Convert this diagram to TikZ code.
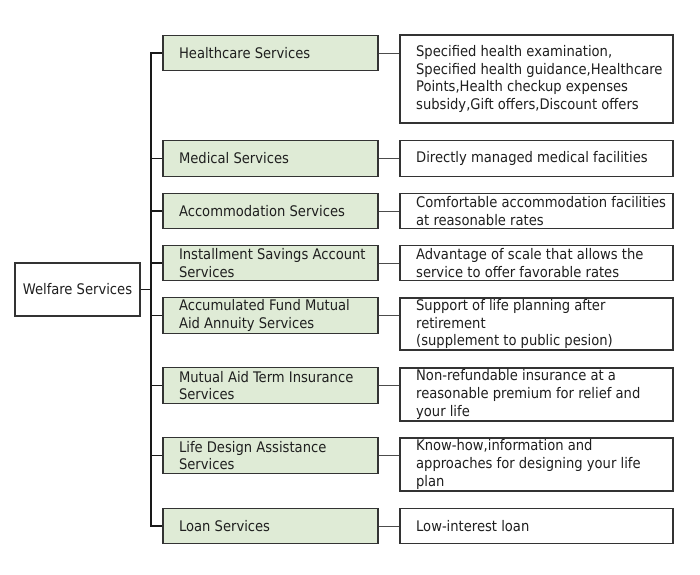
\documentclass[tikz,border=0pt]{standalone}
\usepackage{fontspec}
\setmainfont{DejaVu Sans Condensed}
\begin{document}
\begin{tikzpicture}[x=1pt,y=-1pt,
  every node/.style={font=\fontsize{14.6}{17.8}\selectfont, text=black!88},
  rootbox/.style={draw=black!80, line width=1.1pt, fill=white, minimum width=125pt, minimum height=53pt, inner sep=0pt},
  svcbox/.style={draw=black!80, line width=1.3pt, fill=boxgreen, minimum width=215pt, minimum height=35.5pt, inner sep=0pt},
  descbox/.style={draw=black!80, line width=1.1pt, fill=white, minimum width=273pt, inner sep=0pt},
  label/.style={anchor=west, align=left, inner sep=0pt, xshift=16.5pt},
  trunk/.style={draw=black!90, line width=1.2pt, line join=miter},
  link/.style={draw=black!70, line width=0.9pt}]
\definecolor{boxgreen}{RGB}{223,235,214}
\useasboundingbox (0,0) rectangle (700,574);

% root
\node[rootbox] (w) at (77.5,289.5) {Welfare Services};

% service boxes
\node[svcbox] (h1) at (270.5,53) {};
\node[svcbox] (h2) at (270.5,158.5) {};
\node[svcbox] (h3) at (270.5,211) {};
\node[svcbox] (h4) at (270.5,263) {};
\node[svcbox] (h5) at (270.5,315.5) {};
\node[svcbox] (h6) at (270.5,385.5) {};
\node[svcbox] (h7) at (270.5,455.5) {};
\node[svcbox] (h8) at (270.5,526) {};
\node[label] (t1) at (h1.west) {Healthcare Services};
\node[label] (t2) at (h2.west) {Medical Services};
\node[label] (t3) at (h3.west) {Accommodation Services};
\node[label] (t4) at (h4.west) {Installment Savings Account\\Services};
\node[label] (t5) at (h5.west) {Accumulated Fund Mutual\\Aid Annuity Services};
\node[label] (t6) at (h6.west) {Mutual Aid Term Insurance\\Services};
\node[label] (t7) at (h7.west) {Life Design Assistance\\Services};
\node[label] (t8) at (h8.west) {Loan Services};

% description boxes
\node[descbox, minimum height=88pt] (d1) at (536.5,79) {};
\node[descbox, minimum height=35.5pt] (d2) at (536.5,158.5) {};
\node[descbox, minimum height=35.5pt] (d3) at (536.5,211) {};
\node[descbox, minimum height=35.5pt] (d4) at (536.5,263) {};
\node[descbox, minimum height=52pt] (d5) at (536.5,324) {};
\node[descbox, minimum height=53pt] (d6) at (536.5,394.5) {};
\node[descbox, minimum height=53pt] (d7) at (536.5,464.5) {};
\node[descbox, minimum height=35.5pt] (d8) at (536.5,526) {};
\node[label] (u1) at (d1.west) {Specified health examination,\\Specified health guidance,Healthcare\\Points,Health checkup expenses\\subsidy,Gift offers,Discount offers};
\node[label] (u2) at (d2.west) {Directly managed medical facilities};
\node[label] (u3) at (d3.west) {Comfortable accommodation facilities\\at reasonable rates};
\node[label] (u4) at (d4.west) {Advantage of scale that allows the\\service to offer favorable rates};
\node[label] (u5) at (d5.west) {Support of life planning after\\retirement\\(supplement to public pesion)};
\node[label] (u6) at (d6.west) {Non-refundable insurance at a\\reasonable premium for relief and\\your life};
\node[label] (u7) at (d7.west) {Know-how,information and\\approaches for designing your life\\plan};
\node[label] (u8) at (d8.west) {Low-interest loan};

% tree connectors
\coordinate (tr) at (151,289.5);
\draw[trunk] (w.east) -- (tr);
\draw[trunk] (h1.west) -| (tr) |- (h8.west);
\foreach \k in {2,...,7} {
  \draw[trunk] (h\k.west) -- (h\k.west -| tr);
}
\foreach \k in {1,...,8} {
  \draw[link] (h\k.east) -- (h\k.east -| d\k.west);
}
\end{tikzpicture}
\end{document}
